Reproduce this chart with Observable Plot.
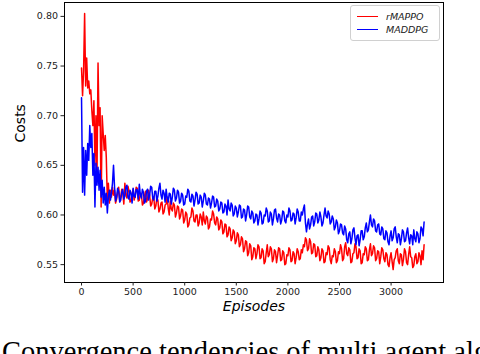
<!DOCTYPE html>
<html>
<head>
<meta charset="utf-8">
<script src="https://cdn.jsdelivr.net/npm/d3@7"></script>
<script src="https://cdn.jsdelivr.net/npm/@observablehq/plot@0.6"></script>
<style>
  html, body { margin: 0; padding: 0; background: #fff; }
  body { width: 480px; height: 354px; overflow: hidden; position: relative; font-family: "DejaVu Sans", sans-serif; }
  #chart { position: absolute; left: 0; top: 0; }
  #legend { position: absolute; left: 350px; top: 5px; width: 90px; height: 36px; border: 1px solid #d0d0d0; border-radius: 3px; background: #fff; box-sizing: border-box; font: italic 9.5px "DejaVu Sans", sans-serif; color: #222; }
  #legend .row { position: absolute; left: 6px; height: 12px; display: flex; align-items: center; }
  #legend .sw { width: 21px; height: 0; border-top: 1.3px solid; margin-right: 8px; }
  #caption { position: absolute; left: 2px; top: 338px; font: 28.5px "Liberation Serif", "Times New Roman", serif; line-height: 28.5px; white-space: nowrap; color: #000; }
</style>
</head>
<body>
<div id="chart"></div>
<div id="legend"></div>
<div id="caption">Convergence tendencies of multi agent algorithms</div>
<script>
// ---- data, one value every 10 episodes from 0 ----
const step = 10;

const rMAPPO = [
  // 0 .. 310
  0.748, 0.720, 0.745, 0.803, 0.730, 0.758, 0.728, 0.735, 0.722, 0.726,
  0.705, 0.690, 0.715, 0.650, 0.700, 0.640, 0.753, 0.690, 0.708, 0.608,
  0.700, 0.682, 0.665, 0.680, 0.658, 0.615, 0.632, 0.612, 0.625, 0.618,
  0.628, 0.620,
  // 320 .. 3320
  0.625,0.612, 0.616,0.623, 0.628,0.615, 0.618,0.626, 0.622,0.611, 0.632,0.620, 0.617,0.629, 0.624,0.613, 0.614,0.621, 0.626,0.615,
  0.619,0.628, 0.627,0.614, 0.615,0.622, 0.621,0.610, 0.612,0.619, 0.624,0.613, 0.616,0.625, 0.620,0.609, 0.611,0.617, 0.618,0.606,
  0.609,0.617, 0.615,0.603, 0.606,0.612, 0.613,0.601, 0.603,0.610, 0.611,0.618, 0.607,0.600, 0.614,0.606, 0.604,0.612, 0.610,0.598,
  0.602,0.609, 0.608,0.596, 0.599,0.606, 0.605,0.592, 0.595,0.603, 0.601,0.588, 0.590,0.597, 0.598,0.607, 0.604,0.594, 0.593,0.600,
  0.600,0.589, 0.592,0.601, 0.598,0.590, 0.603,0.594, 0.591,0.599, 0.597,0.586, 0.588,0.596, 0.595,0.604, 0.601,0.592, 0.590,0.598,
  0.596,0.585, 0.587,0.595, 0.593,0.581, 0.583,0.591, 0.590,0.578, 0.580,0.588, 0.586,0.574, 0.577,0.585, 0.583,0.571, 0.574,0.582,
  0.580,0.568, 0.570,0.578, 0.576,0.563, 0.566,0.574, 0.573,0.559, 0.562,0.571, 0.569,0.555, 0.558,0.567, 0.566,0.556, 0.561,0.570,
  0.568,0.556, 0.557,0.566, 0.564,0.551, 0.553,0.562, 0.570,0.558, 0.560,0.568, 0.566,0.553, 0.556,0.565, 0.563,0.552, 0.559,0.567,
  0.566,0.554, 0.555,0.564, 0.562,0.550, 0.551,0.560, 0.559,0.567, 0.565,0.553, 0.554,0.563, 0.561,0.551, 0.557,0.566, 0.563,0.555,
  0.556,0.565, 0.562,0.570, 0.568,0.577, 0.575,0.564, 0.566,0.576, 0.573,0.561, 0.562,0.571, 0.570,0.558, 0.559,0.568, 0.565,0.554,
  0.557,0.566, 0.564,0.552, 0.553,0.562, 0.560,0.569, 0.567,0.555, 0.551,0.559, 0.558,0.566, 0.563,0.552, 0.554,0.563, 0.561,0.570,
  0.566,0.554, 0.556,0.568, 0.572,0.561, 0.559,0.567, 0.565,0.552, 0.553,0.561, 0.562,0.571, 0.568,0.556, 0.557,0.566, 0.564,0.551,
  0.552,0.561, 0.560,0.568, 0.566,0.554, 0.555,0.565, 0.571,0.559, 0.561,0.569, 0.567,0.554, 0.556,0.564, 0.563,0.551, 0.558,0.567,
  0.565,0.556, 0.553,0.562, 0.560,0.550, 0.548,0.557, 0.562,0.553, 0.545,0.555, 0.557,0.564, 0.566,0.554, 0.551,0.561, 0.560,0.549,
  0.555,0.566, 0.563,0.552, 0.550,0.560, 0.568,0.558, 0.557,0.547, 0.549,0.558, 0.561,0.551, 0.553,0.562, 0.559,0.550, 0.564,0.555,
  0.570
];

const MADDPG = [
  // 0 .. 310
  0.718, 0.623, 0.668, 0.620, 0.665, 0.640, 0.672, 0.655, 0.690, 0.668,
  0.682, 0.640, 0.662, 0.608, 0.652, 0.630, 0.648, 0.625, 0.645, 0.618,
  0.635, 0.612, 0.628, 0.610, 0.622, 0.602, 0.618, 0.625, 0.615, 0.622,
  0.632, 0.650,
  // 320 .. 3320
  0.628,0.614, 0.618,0.627, 0.624,0.613, 0.615,0.623, 0.626,0.616, 0.619,0.628, 0.630,0.618, 0.616,0.625, 0.622,0.612, 0.627,0.619,
  0.618,0.626, 0.625,0.616, 0.631,0.620, 0.617,0.626, 0.623,0.612, 0.614,0.624, 0.626,0.615, 0.620,0.629, 0.628,0.617, 0.615,0.624,
  0.624,0.614, 0.619,0.627, 0.632,0.620, 0.616,0.625, 0.622,0.613, 0.626,0.617, 0.613,0.622, 0.621,0.611, 0.618,0.627, 0.625,0.614,
  0.617,0.625, 0.623,0.612, 0.614,0.622, 0.620,0.610, 0.611,0.619, 0.618,0.626, 0.624,0.614, 0.613,0.621, 0.619,0.609, 0.615,0.623,
  0.621,0.611, 0.612,0.620, 0.618,0.608, 0.614,0.622, 0.620,0.611, 0.610,0.617, 0.616,0.607, 0.612,0.619, 0.618,0.608, 0.609,0.616,
  0.614,0.604, 0.606,0.613, 0.612,0.602, 0.603,0.611, 0.609,0.600, 0.615,0.606, 0.604,0.612, 0.610,0.599, 0.601,0.609, 0.607,0.598,
  0.603,0.610, 0.609,0.597, 0.598,0.606, 0.605,0.594, 0.600,0.609, 0.608,0.598, 0.596,0.604, 0.602,0.592, 0.594,0.601, 0.600,0.590,
  0.596,0.604, 0.602,0.591, 0.592,0.600, 0.599,0.607, 0.604,0.593, 0.594,0.603, 0.601,0.590, 0.596,0.605, 0.606,0.597, 0.593,0.601,
  0.600,0.591, 0.595,0.604, 0.603,0.594, 0.592,0.600, 0.598,0.607, 0.604,0.594, 0.595,0.602, 0.601,0.591, 0.597,0.606, 0.603,0.594,
  0.594,0.603, 0.600,0.606, 0.610,0.592, 0.583,0.591, 0.596,0.586, 0.590,0.598, 0.599,0.589, 0.593,0.602, 0.601,0.592, 0.595,0.603,
  0.598,0.589, 0.592,0.600, 0.607,0.599, 0.597,0.604, 0.601,0.591, 0.593,0.599, 0.596,0.585, 0.588,0.595, 0.592,0.581, 0.584,0.591,
  0.590,0.582, 0.580,0.589, 0.586,0.575, 0.572,0.581, 0.583,0.571, 0.576,0.585, 0.587,0.577, 0.570,0.579, 0.580,0.569, 0.575,0.584,
  0.584,0.575, 0.578,0.587, 0.592,0.583, 0.585,0.593, 0.600,0.590, 0.588,0.596, 0.594,0.584, 0.583,0.590, 0.591,0.581, 0.580,0.588,
  0.586,0.576, 0.575,0.584, 0.582,0.573, 0.570,0.579, 0.584,0.574, 0.577,0.586, 0.588,0.578, 0.572,0.581, 0.580,0.570, 0.576,0.585,
  0.583,0.573, 0.574,0.582, 0.587,0.577, 0.571,0.580, 0.579,0.570, 0.585,0.576, 0.573,0.583, 0.581,0.572, 0.576,0.588, 0.586,0.579,
  0.593
];

const seriesNames = ["rMAPPO", "MADDPG"];
const seriesColors = ["#ff0000", "#0000ff"];
const xTicks = [0, 500, 1000, 1500, 2000, 2500, 3000];
const yTicks = [0.55, 0.60, 0.65, 0.70, 0.75, 0.80];
const xLabel = "Episodes";
const yLabel = "Costs";

// ---- build table ----
const rows = rMAPPO.map((v, i) => ({episode: i * step, rMAPPO: v, MADDPG: MADDPG[i]}));

const chart = Plot.plot({
  width: 480,
  height: 322,
  marginLeft: 64,
  marginRight: 37,
  marginTop: 2,
  marginBottom: 40,
  style: {fontFamily: "DejaVu Sans, sans-serif", fontSize: "9.5px", color: "#222", background: "#fff"},
  x: {domain: [-165, 3508]},
  y: {domain: [0.532, 0.814]},
  marks: [
    Plot.lineY(rows, {x: "episode", y: "rMAPPO", stroke: seriesColors[0], strokeWidth: 1.5}),
    Plot.lineY(rows, {x: "episode", y: "MADDPG", stroke: seriesColors[1], strokeWidth: 1.5}),
    Plot.frame({stroke: "#000", strokeWidth: 1}),
    Plot.axisX({ticks: xTicks, tickSize: 3.5, tickPadding: 2, label: null, tickFormat: d3.format("d")}),
    Plot.axisY({ticks: yTicks, tickSize: 3.5, tickPadding: 3, label: null, tickFormat: d3.format(".2f")}),
    Plot.text([xLabel], {frameAnchor: "bottom", dy: 28, text: d => d, fontSize: 14, fontStyle: "italic", fill: "#000"}),
    Plot.text([yLabel], {frameAnchor: "left", dx: -44, text: d => d, fontSize: 14, rotate: -90, fill: "#000"})
  ]
});
document.getElementById("chart").appendChild(chart);

// legend
const legend = document.getElementById("legend");
seriesNames.forEach((name, i) => {
  const row = document.createElement("div");
  row.className = "row";
  row.style.top = (4 + i * 13.5) + "px";
  const sw = document.createElement("span");
  sw.className = "sw";
  sw.style.borderTopColor = seriesColors[i];
  const lab = document.createElement("span");
  lab.textContent = name;
  row.appendChild(sw);
  row.appendChild(lab);
  legend.appendChild(row);
});
</script>
</body>
</html>
